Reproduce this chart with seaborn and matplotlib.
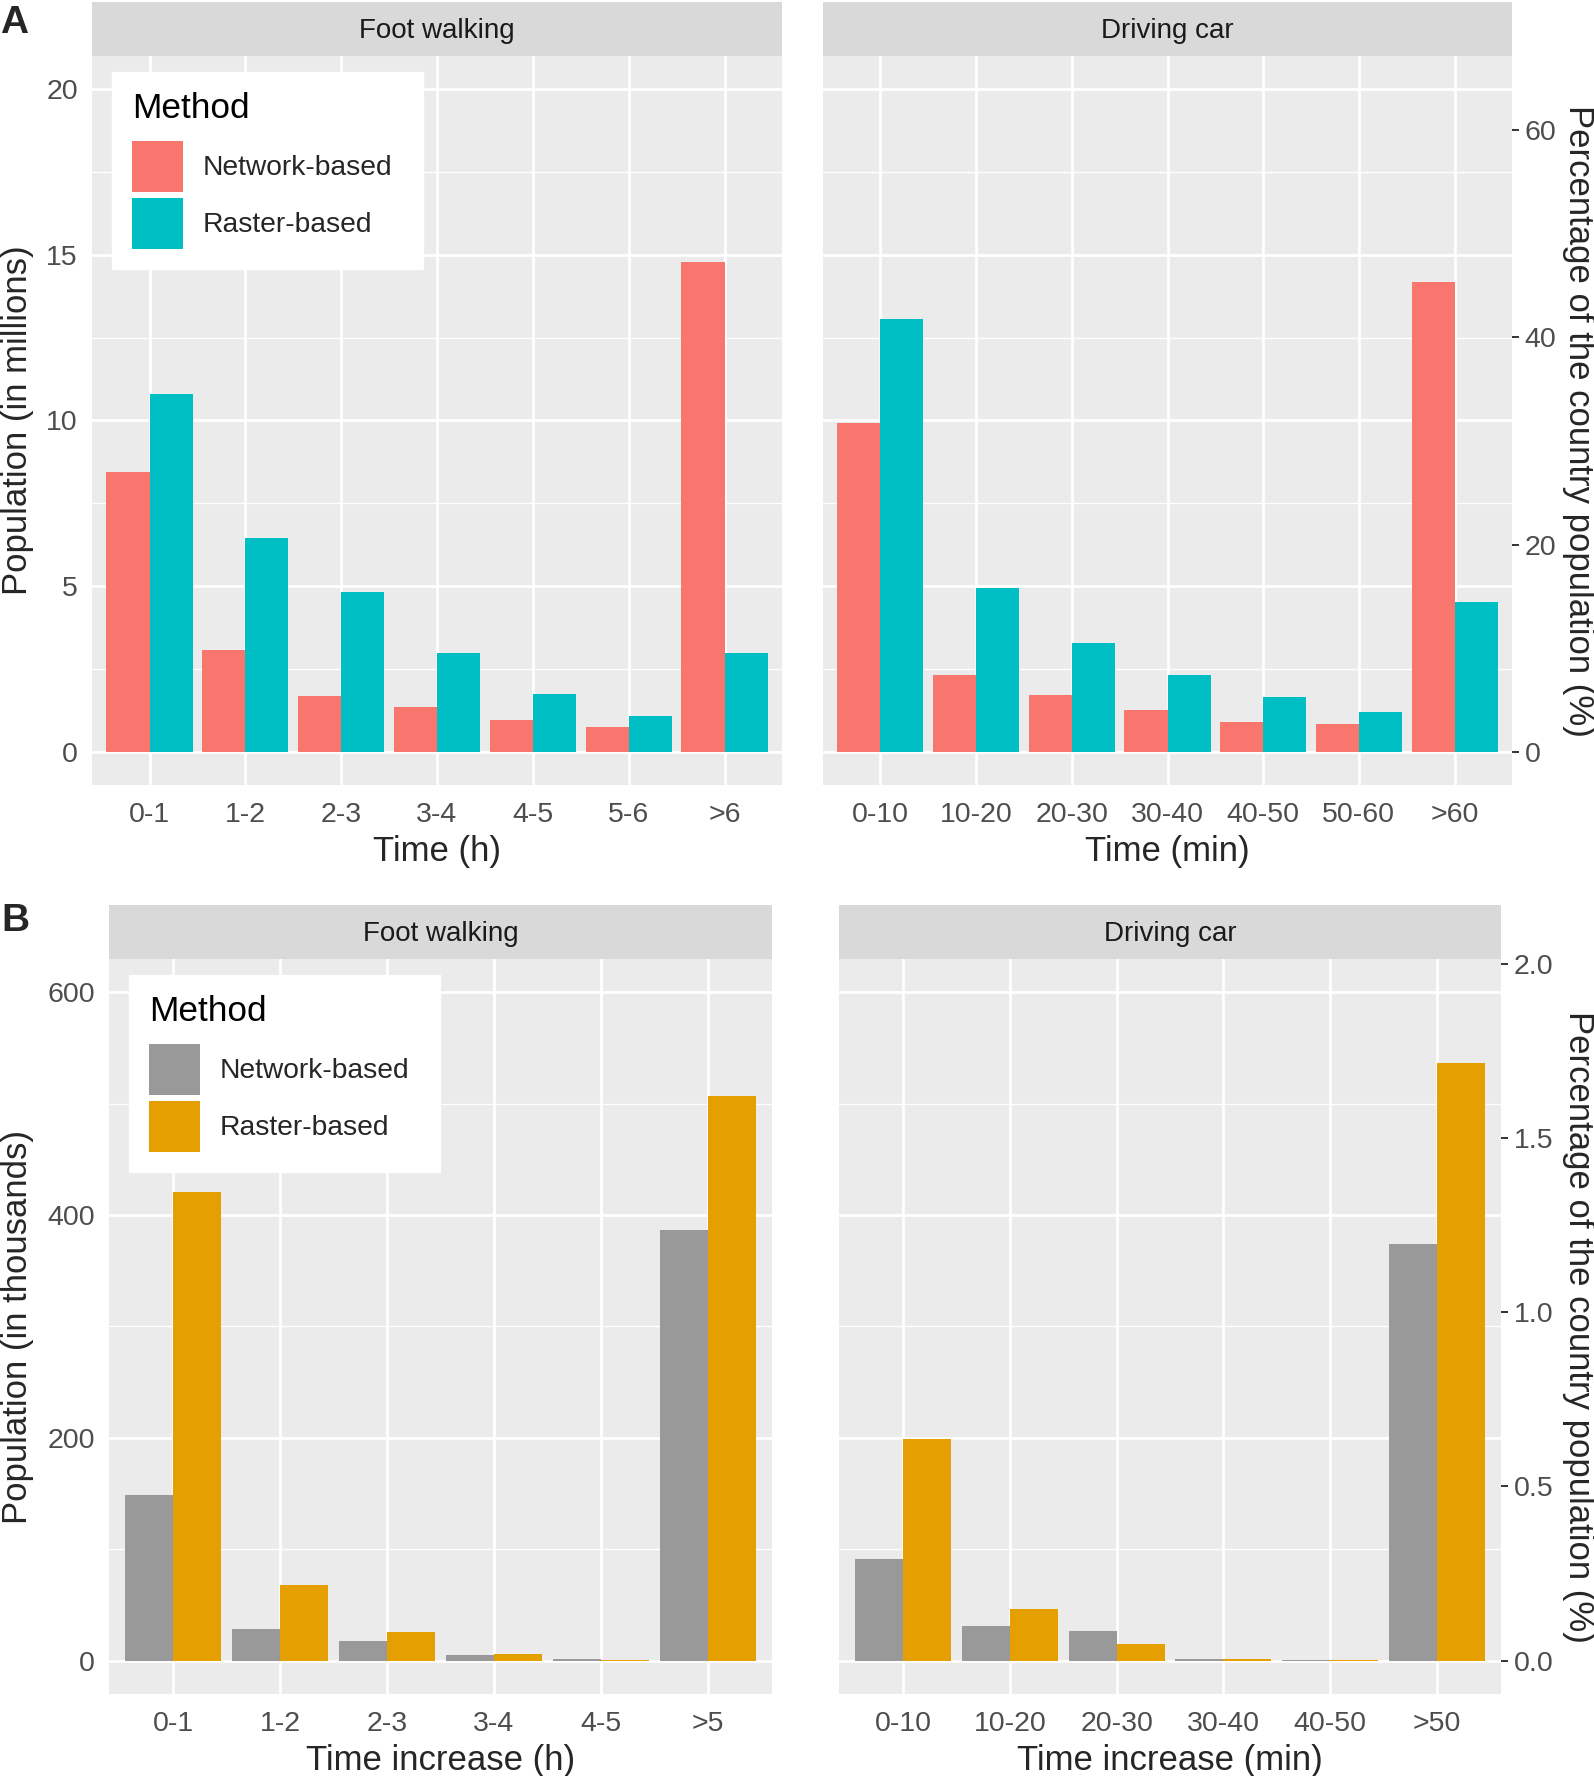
import pandas as pd
import numpy as np
import matplotlib.pyplot as plt
import seaborn as sns
from matplotlib.patches import Patch

# data
methods = ['Network-based', 'Raster-based']

# panel A: population in millions
walk_bins_a = ['0-1', '1-2', '2-3', '3-4', '4-5', '5-6', '>6']
walk_net_a = [8.45, 3.08, 1.69, 1.34, 0.95, 0.75, 14.77]
walk_ras_a = [10.80, 6.45, 4.81, 2.98, 1.76, 1.07, 2.98]
drive_bins_a = ['0-10', '10-20', '20-30', '30-40', '40-50', '50-60', '>60']
drive_net_a = [9.92, 2.32, 1.71, 1.27, 0.91, 0.83, 14.19]
drive_ras_a = [13.06, 4.94, 3.30, 2.32, 1.66, 1.20, 4.52]

# panel B: population in thousands
walk_bins_b = ['0-1', '1-2', '2-3', '3-4', '4-5', '>5']
walk_net_b = [149, 28, 17.5, 5.2, 1.0, 387]
walk_ras_b = [421, 67.5, 26, 6.3, 0.9, 507]
drive_bins_b = ['0-10', '10-20', '20-30', '30-40', '40-50', '>50']
drive_net_b = [91, 31.5, 26.7, 1.8, 0.3, 374]
drive_ras_b = [199, 46, 15.3, 1.0, 0.1, 537]

country_pop_m = 31.27  # country population in millions (secondary axis)

pal_a = ['#F8766D', '#00BFC4']
pal_b = ['#999999', '#E69F00']

sns.set_style('darkgrid', rc={'axes.facecolor': '#EBEBEB', 'grid.color': 'white'})
plt.rcParams['font.family'] = ['Liberation Sans', 'DejaVu Sans']

W, H = 1594, 1776
fig = plt.figure(figsize=(W / 100, H / 100), dpi=100)

TICK_FS = 20.5
TITLE_FS = 25


def rect(x0, y0, x1, y1):
    return [x0 / W, 1 - y1 / H, (x1 - x0) / W, (y1 - y0) / H]


def make_df(bins, net, ras):
    return pd.DataFrame({
        'bin': bins * 2,
        'value': net + ras,
        'method': [methods[0]] * len(bins) + [methods[1]] * len(bins),
    })


def draw_panel(box, strip_top, df, bins, pal, title, xlabel, ylim, yticks, minor,
               left_axis=False, ylabel=None, sec=None, legend_px=None):
    x0, y0, x1, y1 = box
    ax = fig.add_axes(rect(x0, y0, x1, y1))
    sns.barplot(data=df, x='bin', y='value', hue='method', order=bins,
                hue_order=methods, palette=pal, width=0.9, gap=0, saturation=1,
                linewidth=0, errorbar=None, legend=False, ax=ax)
    ax.set_xlim(-0.6, len(bins) - 0.4)
    ax.set_ylim(*ylim)
    ax.set_axisbelow(True)
    ax.set_yticks(yticks)
    ax.set_yticks(minor, minor=True)
    ax.grid(True, which='major', color='white', lw=2.0)
    ax.grid(True, which='minor', axis='y', color='white', lw=1.0)
    for s in ax.spines.values():
        s.set_visible(False)
    ax.set_xlabel('')
    ax.set_ylabel('')
    ax.tick_params(axis='both', which='major', colors='#333333', length=5.2, width=1.4,
                   labelcolor='#4D4D4D', labelsize=TICK_FS, pad=5)
    ax.tick_params(axis='x', which='major', pad=7)
    ax.tick_params(axis='y', which='minor', length=0)
    if not left_axis:
        ax.tick_params(axis='y', which='major', left=False, labelleft=False)
    else:
        fig.text(18 / W, 1 - (y0 + y1) / 2 / H, ylabel, rotation=90, ha='center',
                 va='center', fontsize=TITLE_FS)

    # facet strip
    sax = fig.add_axes(rect(x0, strip_top, x1, y0))
    sax.set_facecolor('#D9D9D9')
    sax.set_xticks([])
    sax.set_yticks([])
    for s in sax.spines.values():
        s.set_visible(False)
    sax.text(0.5, 0.47, title, ha='center', va='center', fontsize=20, color='#1A1A1A')

    fig.text((x0 + x1) / 2 / W, 1 - (y1 + 66) / H, xlabel, ha='center', va='center',
             fontsize=TITLE_FS)

    if sec is not None:
        scale, sticks = sec
        sx = ax.secondary_yaxis('right', functions=(lambda v: v / scale * 100,
                                                    lambda p: p * scale / 100))
        sx.set_yticks(sticks)
        sx.tick_params(colors='#333333', length=5.2, width=1.4, labelcolor='#4D4D4D',
                       labelsize=TICK_FS, pad=4)
        for s in sx.spines.values():
            s.set_visible(False)
        fig.text(1578 / W, 1 - (y0 + y1) / 2 / H, 'Percentage of the country population (%)',
                 rotation=-90, ha='center', va='center', fontsize=TITLE_FS)

    if legend_px is not None:
        lx, ly, lw = legend_px
        fx = (lx - x0) / (x1 - x0)
        fy = 1 - (ly - y0) / (y1 - y0)
        fw = lw / (x1 - x0)
        handles = [Patch(facecolor=c, edgecolor='none') for c in pal]
        lg = ax.legend(handles, methods, title='Method', loc='upper left',
                       bbox_to_anchor=(fx, fy - 0.1, fw, 0.1), mode='expand',
                       borderaxespad=0, frameon=True,
                       fancybox=False, facecolor='white', edgecolor='white', framealpha=1,
                       fontsize=20.3, title_fontsize=25.4, handlelength=1.81,
                       handleheight=2.43, labelspacing=0.2, handletextpad=0.68,
                       borderpad=0.72, alignment='left')
        lg.get_title().set_color('black')
        lg._legend_box.sep = 11  # a bit more room under the title
    return ax


# panel A
draw_panel((92, 56, 782, 785), 2, make_df(walk_bins_a, walk_net_a, walk_ras_a),
           walk_bins_a, pal_a, 'Foot walking', 'Time (h)', (-1, 21),
           [0, 5, 10, 15, 20], [2.5, 7.5, 12.5, 17.5], left_axis=True,
           ylabel='Population (in millions)', legend_px=(112, 72, 311))
draw_panel((823, 56, 1512, 785), 2, make_df(drive_bins_a, drive_net_a, drive_ras_a),
           drive_bins_a, pal_a, 'Driving car', 'Time (min)', (-1, 21),
           [0, 5, 10, 15, 20], [2.5, 7.5, 12.5, 17.5],
           sec=(country_pop_m, [0, 20, 40, 60]))

# panel B
draw_panel((109, 959, 772, 1694), 905, make_df(walk_bins_b, walk_net_b, walk_ras_b),
           walk_bins_b, pal_b, 'Foot walking', 'Time increase (h)', (-30, 630),
           [0, 200, 400, 600], [100, 300, 500], left_axis=True,
           ylabel='Population (in thousands)', legend_px=(129, 975, 311))
draw_panel((839, 959, 1501, 1694), 905, make_df(drive_bins_b, drive_net_b, drive_ras_b),
           drive_bins_b, pal_b, 'Driving car', 'Time increase (min)', (-30, 630),
           [0, 200, 400, 600], [100, 300, 500],
           sec=(country_pop_m * 1000, [0.0, 0.5, 1.0, 1.5, 2.0]))

fig.text(0 / W, 1 - 33 / H, 'A', fontsize=28, fontweight='bold', ha='left', va='baseline')
fig.text(1 / W, 1 - 931 / H, 'B', fontsize=28, fontweight='bold', ha='left', va='baseline')

fig.savefig('out.png', dpi=100, facecolor='white')
